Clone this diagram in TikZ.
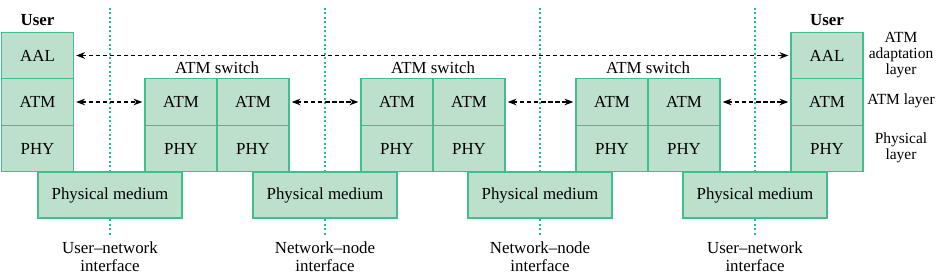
\documentclass[tikz,border=0pt]{standalone}
\usepackage{fontspec}
\setmainfont{Liberation Serif}
\usetikzlibrary{arrows.meta,positioning}
\definecolor{boxfill}{RGB}{188,224,204}
\definecolor{boxline}{RGB}{64,190,140}
\definecolor{ifline}{RGB}{36,186,150}
\tikzset{
  cell/.style={draw=boxline, fill=boxfill, thick, minimum width=1.8cm, minimum height=1.16cm, inner sep=0pt, font=\fontsize{12}{14}\selectfont},
  medium/.style={cell, minimum width=3.6cm, minimum height=1.15cm},
  iface/.style={ifline, thick, dash pattern=on 1.2pt off 2pt},
  peer/.style={{Stealth[length=2.2mm]}-{Stealth[length=2.2mm]}, thick, dash pattern=on 3pt off 2pt, shorten <=1.5pt, shorten >=1.5pt},
  toplabel/.style={font=\fontsize{12}{14}\selectfont},
  sidelabel/.style={align=center, font=\fontsize{11}{11.5}\selectfont},
  iflabel/.style={align=center, inner sep=1pt, font=\fontsize{12}{12.5}\selectfont}
}

\begin{document}
\begin{tikzpicture}[x=0.025cm, y=-0.025cm]
  \useasboundingbox (0,0) rectangle (941,275);
  % interface lines
  \coordinate (if1t) at (110,8);   \coordinate (if1b) at (110,237);
  \coordinate (if2t) at (325,8);   \coordinate (if2b) at (325,237);
  \coordinate (if3t) at (540,8);   \coordinate (if3b) at (540,237);
  \coordinate (if4t) at (755,8);   \coordinate (if4b) at (755,237);
  \draw[iface] (if1t)--(if1b); \draw[iface] (if2t)--(if2b);
  \draw[iface] (if3t)--(if3b); \draw[iface] (if4t)--(if4b);
  % end users
  \node[cell] (uaal) at (37.5,55.5) {AAL};
  \node[cell] (uatm) at (37.5,102) {ATM};
  \node[cell] (uphy) at (37.5,148.5) {PHY};
  \node[cell] (vaal) at (827,55.5) {AAL};
  \node[cell] (vatm) at (827,102) {ATM};
  \node[cell] (vphy) at (827,148.5) {PHY};
  \node[toplabel, font=\fontsize{12}{14}\selectfont\bfseries] (ulab) at (37.5,20) {User};
  \node[toplabel, font=\fontsize{12}{14}\selectfont\bfseries] (vlab) at (827,20) {User};
  % switches
  \node[cell] (sw1atmL) at (181,102) {ATM};   \node[cell] (sw1atmR) at (253,102) {ATM};
  \node[cell] (sw1phyL) at (181,148.5) {PHY}; \node[cell] (sw1phyR) at (253,148.5) {PHY};
  \node[cell] (sw2atmL) at (397,102) {ATM};   \node[cell] (sw2atmR) at (469,102) {ATM};
  \node[cell] (sw2phyL) at (397,148.5) {PHY}; \node[cell] (sw2phyR) at (469,148.5) {PHY};
  \node[cell] (sw3atmL) at (612,102) {ATM};   \node[cell] (sw3atmR) at (684,102) {ATM};
  \node[cell] (sw3phyL) at (612,148.5) {PHY}; \node[cell] (sw3phyR) at (684,148.5) {PHY};
  \node[toplabel] (sw1lab) at (217,68) {ATM switch};
  \node[toplabel] (sw2lab) at (433,68) {ATM switch};
  \node[toplabel] (sw3lab) at (648,68) {ATM switch};
  % physical media
  \node[medium] (med1) at (110,195) {Physical medium};
  \node[medium] (med2) at (325,195) {Physical medium};
  \node[medium] (med3) at (540,195) {Physical medium};
  \node[medium] (med4) at (755,195) {Physical medium};
  % peer arrows
  \draw[peer] (uaal)--(vaal);
  \draw[peer] (uatm)--(sw1atmL); \draw[peer] (sw1atmR)--(sw2atmL);
  \draw[peer] (sw2atmR)--(sw3atmL); \draw[peer] (sw3atmR)--(vatm);
  % layer names
  \node[sidelabel] (aallab) at (901,55) {ATM\\adaptation\\layer};
  \node[sidelabel] (atmlab) at (901,101) {ATM layer};
  \node[sidelabel] (phylab) at (901,148) {Physical\\layer};
  % interface names
  \node[iflabel] (if1lab) at (110,257) {User--network\\interface};
  \node[iflabel] (if2lab) at (325,257) {Network--node\\interface};
  \node[iflabel] (if3lab) at (540,257) {Network--node\\interface};
  \node[iflabel] (if4lab) at (755,257) {User--network\\interface};
\end{tikzpicture}
\end{document}
